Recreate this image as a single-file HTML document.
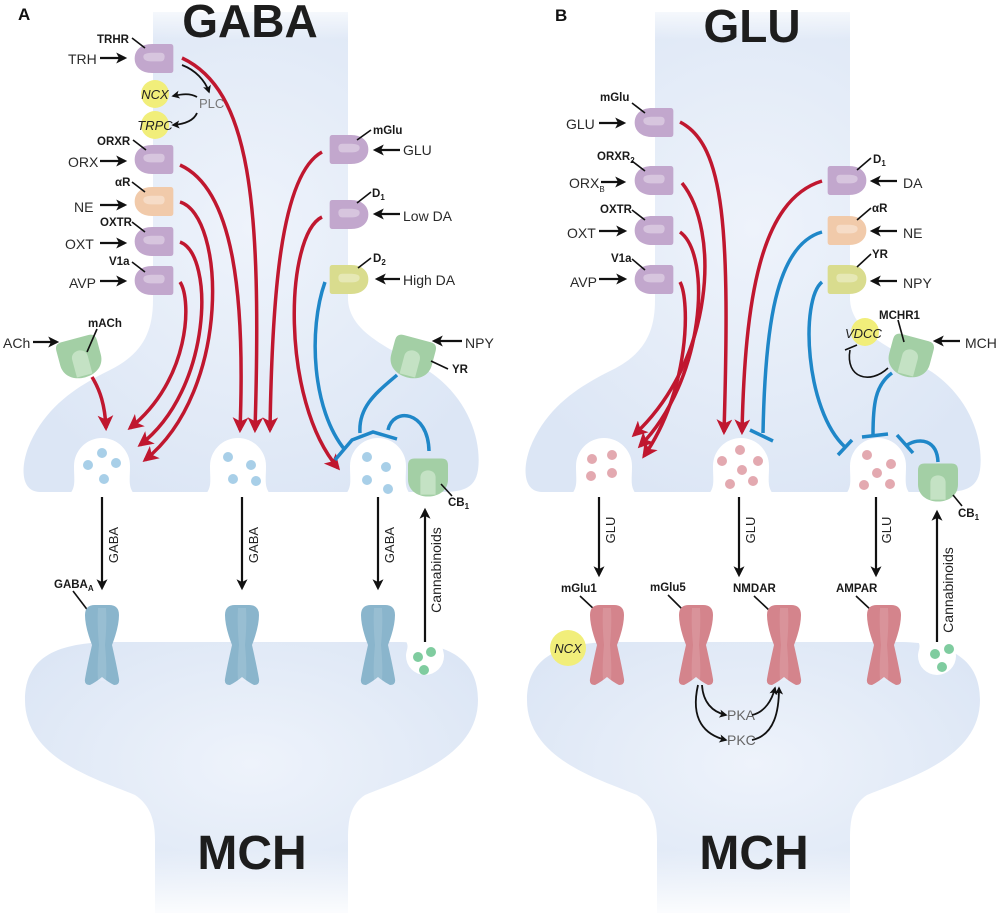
<!DOCTYPE html>
<html><head><meta charset="utf-8"><style>
html,body{margin:0;padding:0;background:#fff;}
svg{display:block;}
text{font-family:"Liberation Sans",sans-serif;}
.lb{font-weight:bold;font-size:11.5px;fill:#1a1a1a;}
.lt{font-size:14px;fill:#2a2a2a;}
</style></head><body>
<svg width="1000" height="913" viewBox="0 0 1000 913" xmlns="http://www.w3.org/2000/svg">
<defs>
<radialGradient id="bg" cx="50%" cy="45%" r="60%">
<stop offset="0" stop-color="#eef3fb"/><stop offset="1" stop-color="#dce6f5"/></radialGradient>
<linearGradient id="topfade" x1="0" y1="0" x2="0" y2="1">
<stop offset="0" stop-color="#fff" stop-opacity="1"/><stop offset="1" stop-color="#fff" stop-opacity="0"/></linearGradient>
<linearGradient id="botfade" x1="0" y1="0" x2="0" y2="1">
<stop offset="0" stop-color="#fff" stop-opacity="0"/><stop offset="1" stop-color="#fff" stop-opacity="0.9"/></linearGradient>
<marker id="ra" viewBox="0 0 10 10" refX="8" refY="5" markerWidth="5" markerHeight="4.5" orient="auto" markerUnits="strokeWidth"><path d="M0,0 L10,5 L0,10 L2.5,5Z" fill="#c0172f"/></marker>
<marker id="ba" viewBox="0 0 10 10" refX="8" refY="5" markerWidth="6" markerHeight="5" orient="auto" markerUnits="strokeWidth"><path d="M0,0 L10,5 L0,10 L2.5,5Z" fill="#111"/></marker>
<marker id="bs" viewBox="0 0 10 10" refX="8" refY="5" markerWidth="5" markerHeight="4.5" orient="auto" markerUnits="strokeWidth"><path d="M0,0 L10,5 L0,10 L2.5,5Z" fill="#111"/></marker>
<symbol id="rl" viewBox="0 0 40 30" overflow="visible">
<path d="M18,0 H37 Q40,0 40,3 V27 Q40,30 37,30 H18 C7,30 0,24 0,15 C0,6 7,0 18,0Z"/>
<path d="M9,13 C9,10 13,9 19,9 H27 Q31,9 31,13 Q31,18 27,18 H19 C13,18 9,17 9,13Z" fill="#fff" opacity="0.35"/>
</symbol>
<symbol id="gr" viewBox="0 0 42 40" overflow="visible">
<path d="M7,0 H35 Q42,0 42,7 V22 C42,33 33,40 21,40 C9,40 0,33 0,22 V7 Q0,0 7,0Z" fill="#a3cfa5"/>
<path d="M13,38 V20 C13,10 29,10 29,20 V38Z" fill="#c4e2c4"/>
</symbol>
<symbol id="ch" viewBox="0 0 38 80" overflow="visible">
<path d="M2,10 Q2,0 12,0 H26 Q36,0 36,10 Q36,22 29,40 Q34,62 36,74 Q37,80 31,80 Q25,77 19,72 Q13,77 7,80 Q1,80 2,74 Q4,62 9,40 Q2,22 2,10Z"/>
<path d="M15,3 H23 Q24,20 22,40 Q24,60 23,76 H15 Q14,60 16,40 Q14,20 15,3Z" fill="#fff" opacity="0.12"/>
</symbol>
<g id="preA">
<path d="M153,12 H348 V300 C350,335 395,350 430,372 C468,398 482,440 478,470 C475,490 460,492 440,492 L40,492 C22,492 20,470 28,448 C45,405 80,385 110,370 C140,355 153,335 153,300Z" fill="url(#bg)"/>
<rect x="150" y="0" width="202" height="40" fill="url(#topfade)"/>
</g>
<g id="postA">
<path d="M25,700 C25,655 60,643 110,642 H400 C450,643 478,660 478,700 C478,760 400,780 365,795 C350,805 348,820 348,840 V913 H155 V840 C155,820 150,805 135,795 C100,780 25,760 25,700Z" fill="url(#bg)"/>
<rect x="150" y="850" width="202" height="63" fill="url(#botfade)"/>
</g>
</defs>

<!-- PANEL A -->
<use href="#preA"/>
<use href="#postA"/>
<g fill="#fff">
<path d="M70,494 C76,486 74,480 74,466 A28,28 0 0 1 130,466 C130,480 128,486 134,494Z"/>
<path d="M206,494 C212,486 210,480 210,466 A28,28 0 0 1 266,466 C266,480 264,486 270,494Z"/>
<path d="M346,494 C352,486 350,480 350,466 A28,28 0 0 1 406,466 C406,480 404,486 410,494Z"/>
<path d="M405,640 C410,646 406,650 406,656 A19,19 0 0 0 444,656 C444,650 440,646 445,640Z"/>
<path d="M0,494 H500 V640 H0Z"/>
</g>
<g fill="#a8cfe8">
<circle cx="102" cy="453" r="5"/><circle cx="88" cy="465" r="5"/><circle cx="116" cy="463" r="5"/><circle cx="104" cy="479" r="5"/>
<circle cx="228" cy="457" r="5"/><circle cx="251" cy="465" r="5"/><circle cx="233" cy="479" r="5"/><circle cx="256" cy="481" r="5"/>
<circle cx="367" cy="457" r="5"/><circle cx="386" cy="467" r="5"/><circle cx="367" cy="480" r="5"/><circle cx="388" cy="489" r="5"/>
</g>
<g fill="#7fcc9f"><circle cx="418" cy="657" r="5"/><circle cx="431" cy="652" r="5"/><circle cx="424" cy="670" r="5"/></g>

<text x="250" y="37" text-anchor="middle" font-weight="bold" font-size="46" fill="#1d1d1d">GABA</text>
<text x="18" y="20" font-weight="bold" font-size="17" fill="#111">A</text>

<use href="#rl" x="134" y="44" width="40" height="29" fill="#c2a7cd"/>
<use href="#rl" x="134" y="145" width="40" height="29" fill="#c2a7cd"/>
<use href="#rl" x="134" y="187" width="40" height="29" fill="#f1caaa"/>
<use href="#rl" x="134" y="227" width="40" height="29" fill="#c2a7cd"/>
<use href="#rl" x="134" y="266" width="40" height="29" fill="#c2a7cd"/>
<g transform="translate(369,0) scale(-1,1)">
<use href="#rl" x="0" y="135" width="40" height="29" fill="#c2a7cd"/>
<use href="#rl" x="0" y="200" width="40" height="29" fill="#c2a7cd"/>
<use href="#rl" x="0" y="265" width="40" height="29" fill="#d9dc8e"/>
</g>
<g transform="rotate(-15 80 358)"><use href="#gr" x="59" y="338" width="42" height="40"/></g>
<g transform="rotate(15 412 358)"><use href="#gr" x="391" y="338" width="42" height="40"/></g>
<use href="#gr" x="408" y="458" width="40" height="39"/>
<circle cx="155" cy="94" r="14" fill="#f1ee7a"/><circle cx="155" cy="125" r="14" fill="#f1ee7a"/>
<text x="155" y="99" text-anchor="middle" font-style="italic" font-size="13" fill="#222">NCX</text>
<text x="155" y="130" text-anchor="middle" font-style="italic" font-size="13" fill="#222">TRPC</text>
<text x="199" y="108" font-size="13" fill="#777">PLC</text>

<g class="lt">
<text x="68" y="64">TRH</text><text x="68" y="167">ORX</text><text x="74" y="212">NE</text><text x="65" y="249">OXT</text><text x="69" y="288">AVP</text>
<text x="3" y="348">ACh</text>
<text x="403" y="155">GLU</text><text x="403" y="221">Low DA</text><text x="403" y="285">High DA</text><text x="465" y="348">NPY</text>
</g>
<g class="lb">
<text x="97" y="43">TRHR</text><text x="97" y="145">ORXR</text><text x="115" y="186">αR</text><text x="100" y="226">OXTR</text><text x="109" y="265">V1a</text>
<text x="88" y="327">mACh</text>
<text x="373" y="134">mGlu</text><text x="372" y="197">D<tspan font-size="8" dy="3">1</tspan></text><text x="373" y="262">D<tspan font-size="8" dy="3">2</tspan></text>
<text x="452" y="373">YR</text><text x="448" y="506">CB<tspan font-size="8" dy="3">1</tspan></text>
<text x="54" y="588">GABA<tspan font-size="8" dy="3">A</tspan></text>
</g>
<g stroke="#111" stroke-width="1.6" fill="none">
<path d="M132,38 L145,48"/><path d="M133,140 L146,150"/><path d="M132,182 L145,192"/><path d="M132,222 L145,232"/><path d="M132,262 L145,272"/>
<path d="M97,329 L87,352"/><path d="M371,130 L357,140"/><path d="M371,192 L357,203"/><path d="M371,258 L358,268"/>
<path d="M431,361 L448,369"/><path d="M441,484 L452,496"/><path d="M73,591 L89,612"/>
</g>
<g stroke="#111" stroke-width="2.2" fill="none" marker-end="url(#ba)">
<path d="M100,58 H125"/><path d="M100,161 H125"/><path d="M100,205 H125"/><path d="M100,243 H125"/><path d="M100,281 H125"/>
<path d="M33,342 H57"/>
<path d="M400,150 H375"/><path d="M400,214 H375"/><path d="M400,279 H377"/><path d="M462,341 H434"/>
</g>
<g stroke="#111" stroke-width="1.8" fill="none" marker-end="url(#bs)">
<path d="M182,65 C195,70 205,80 209,92"/><path d="M197,97 C190,93 182,94 173,96"/><path d="M197,113 C194,120 186,124 173,125"/>
</g>
<g stroke="#c0172f" stroke-width="3.5" fill="none" marker-end="url(#ra)">
<path d="M182,58 C250,90 262,200 255,430"/>
<path d="M180,165 C235,190 245,300 240,430"/>
<path d="M180,202 C225,215 232,390 145,460"/>
<path d="M180,242 C215,255 212,390 140,445"/>
<path d="M180,282 C192,300 190,380 130,428"/>
<path d="M322,152 C280,175 272,300 270,430"/>
<path d="M322,217 C285,235 280,400 338,468"/>
<path d="M92,377 C100,390 105,405 106,428"/>
</g>
<g stroke="#1f87c8" stroke-width="3.5" fill="none">
<path d="M325,282 C308,330 312,410 345,450"/>
<path d="M335,460 L352,440 L373,432 L397,439"/>
<path d="M397,375 C380,390 358,405 360,433"/>
<path d="M429,451 C428,410 393,407 388,430"/>
</g>
<g stroke="#111" stroke-width="2.2" fill="none" marker-end="url(#ba)">
<path d="M102,497 V588"/><path d="M242,497 V588"/><path d="M378,497 V588"/><path d="M425,642 V510"/>
</g>
<g font-size="13" fill="#222">
<text transform="translate(118,545) rotate(-90)" text-anchor="middle">GABA</text>
<text transform="translate(258,545) rotate(-90)" text-anchor="middle">GABA</text>
<text transform="translate(394,545) rotate(-90)" text-anchor="middle">GABA</text>
<text transform="translate(441,570) rotate(-90)" text-anchor="middle" font-size="14">Cannabinoids</text>
</g>
<use href="#ch" x="83" y="605" width="38" height="80" fill="#8ab5cc"/>
<use href="#ch" x="223" y="605" width="38" height="80" fill="#8ab5cc"/>
<use href="#ch" x="359" y="605" width="38" height="80" fill="#8ab5cc"/>
<text x="252" y="869" text-anchor="middle" font-weight="bold" font-size="48" fill="#1d1d1d">MCH</text>

<!-- PANEL B -->
<g transform="translate(502,0)">
<use href="#preA"/>
<use href="#postA"/>
</g>
<g fill="#fff">
<path d="M572,494 C578,486 576,480 576,466 A28,28 0 0 1 632,466 C632,480 630,486 636,494Z"/>
<path d="M709,494 C715,486 713,480 713,466 A28,28 0 0 1 769,466 C769,480 767,486 773,494Z"/>
<path d="M846,494 C852,486 850,480 850,466 A28,28 0 0 1 906,466 C906,480 904,486 910,494Z"/>
<path d="M917,640 C922,646 918,650 918,656 A19,19 0 0 0 956,656 C956,650 952,646 957,640Z"/>
<path d="M500,494 H1000 V640 H500Z"/>
</g>
<g fill="#e3a9b0">
<circle cx="592" cy="459" r="5"/><circle cx="612" cy="455" r="5"/><circle cx="591" cy="476" r="5"/><circle cx="612" cy="473" r="5"/>
<circle cx="740" cy="450" r="5"/><circle cx="722" cy="461" r="5"/><circle cx="758" cy="461" r="5"/><circle cx="742" cy="470" r="5"/><circle cx="730" cy="484" r="5"/><circle cx="753" cy="481" r="5"/>
<circle cx="867" cy="455" r="5"/><circle cx="891" cy="464" r="5"/><circle cx="877" cy="473" r="5"/><circle cx="864" cy="485" r="5"/><circle cx="890" cy="484" r="5"/>
</g>
<g fill="#7fcc9f"><circle cx="935" cy="654" r="5"/><circle cx="949" cy="649" r="5"/><circle cx="942" cy="667" r="5"/></g>

<text x="752" y="42" text-anchor="middle" font-weight="bold" font-size="46" fill="#1d1d1d">GLU</text>
<text x="555" y="21" font-weight="bold" font-size="17" fill="#111">B</text>

<use href="#rl" x="634" y="108" width="40" height="29" fill="#c2a7cd"/>
<use href="#rl" x="634" y="166" width="40" height="29" fill="#c2a7cd"/>
<use href="#rl" x="634" y="216" width="40" height="29" fill="#c2a7cd"/>
<use href="#rl" x="634" y="265" width="40" height="29" fill="#c2a7cd"/>
<g transform="translate(867,0) scale(-1,1)">
<use href="#rl" x="0" y="166" width="40" height="29" fill="#c2a7cd"/>
<use href="#rl" x="0" y="216" width="40" height="29" fill="#f1caaa"/>
<use href="#rl" x="0" y="265" width="40" height="29" fill="#d9dc8e"/>
</g>
<g transform="rotate(15 910 357)"><use href="#gr" x="889" y="337" width="42" height="40"/></g>
<use href="#gr" x="918" y="463" width="40" height="39"/>
<circle cx="865" cy="332" r="14" fill="#f1ee7a"/>
<text x="845" y="338" font-style="italic" font-size="13" fill="#222">VDCC</text>
<circle cx="568" cy="648" r="18" fill="#f1ee7a"/>
<text x="568" y="653" text-anchor="middle" font-style="italic" font-size="13" fill="#222">NCX</text>

<g class="lt">
<text x="566" y="129">GLU</text><text x="569" y="188">ORX<tspan font-size="8" dy="4">B</tspan></text><text x="567" y="238">OXT</text><text x="570" y="287">AVP</text>
<text x="903" y="188">DA</text><text x="903" y="238">NE</text><text x="903" y="288">NPY</text><text x="965" y="348">MCH</text>
<text x="727" y="720" fill="#666">PKA</text><text x="727" y="745" fill="#666">PKC</text>
</g>
<g class="lb">
<text x="600" y="101">mGlu</text><text x="597" y="160">ORXR<tspan font-size="8" dy="3">2</tspan></text><text x="600" y="213">OXTR</text><text x="611" y="262">V1a</text>
<text x="873" y="163">D<tspan font-size="8" dy="3">1</tspan></text><text x="872" y="212">αR</text><text x="872" y="258">YR</text>
<text x="879" y="319">MCHR1</text><text x="958" y="517">CB<tspan font-size="8" dy="3">1</tspan></text>
<text x="561" y="592">mGlu1</text><text x="650" y="591">mGlu5</text><text x="733" y="592">NMDAR</text><text x="836" y="592">AMPAR</text>
</g>
<g stroke="#111" stroke-width="1.6" fill="none">
<path d="M632,103 L645,113"/><path d="M632,161 L645,171"/><path d="M632,210 L645,220"/><path d="M632,259 L645,270"/>
<path d="M871,158 L857,170"/><path d="M871,208 L857,220"/><path d="M871,254 L857,267"/>
<path d="M898,320 L904,342"/><path d="M953,495 L962,506"/>
<path d="M580,596 L596,611"/><path d="M668,595 L684,611"/><path d="M754,596 L770,611"/><path d="M856,596 L872,611"/>
</g>
<g stroke="#111" stroke-width="2.2" fill="none" marker-end="url(#ba)">
<path d="M599,123 H624"/><path d="M601,182 H624"/><path d="M599,231 H625"/><path d="M599,279 H625"/>
<path d="M897,181 H872"/><path d="M897,231 H872"/><path d="M897,281 H872"/><path d="M960,341 H935"/>
</g>
<g stroke="#c0172f" stroke-width="3.5" fill="none" marker-end="url(#ra)">
<path d="M680,122 C725,145 730,230 724,432"/>
<path d="M682,183 C720,230 715,360 634,435"/>
<path d="M680,232 C712,255 705,380 640,446"/>
<path d="M680,282 C690,300 690,390 644,456"/>
<path d="M822,181 C760,200 745,300 742,432"/>
</g>
<g stroke="#1f87c8" stroke-width="3.5" fill="none">
<path d="M822,232 C775,245 765,330 763,433"/><path d="M750,430 L773,441"/>
<path d="M822,282 C800,300 805,410 845,447"/><path d="M838,455 L852,440"/>
<path d="M892,373 C875,385 873,405 873,435"/><path d="M862,437 L888,434"/>
<path d="M938,462 C937,440 920,437 907,445"/><path d="M897,435 L913,453"/>
</g>
<g stroke="#111" stroke-width="1.6" fill="none">
<path d="M888,368 C870,385 845,378 850,350"/><path d="M845,350 L857,345"/>
</g>
<g stroke="#111" stroke-width="2.2" fill="none" marker-end="url(#ba)">
<path d="M599,497 V575"/><path d="M739,497 V575"/><path d="M876,497 V575"/><path d="M937,642 V512"/>
</g>
<g stroke="#111" stroke-width="1.8" fill="none" marker-end="url(#bs)">
<path d="M702,685 C703,702 712,712 726,715"/><path d="M698,685 C690,720 705,735 726,740"/>
<path d="M752,715 C765,712 772,700 775,688"/><path d="M752,740 C775,735 779,710 779,688"/>
</g>
<g font-size="13" fill="#222">
<text transform="translate(615,530) rotate(-90)" text-anchor="middle">GLU</text>
<text transform="translate(755,530) rotate(-90)" text-anchor="middle">GLU</text>
<text transform="translate(891,530) rotate(-90)" text-anchor="middle">GLU</text>
<text transform="translate(953,590) rotate(-90)" text-anchor="middle" font-size="14">Cannabinoids</text>
</g>
<use href="#ch" x="588" y="605" width="38" height="80" fill="#d4848c"/>
<use href="#ch" x="677" y="605" width="38" height="80" fill="#d4848c"/>
<use href="#ch" x="765" y="605" width="38" height="80" fill="#d4848c"/>
<use href="#ch" x="865" y="605" width="38" height="80" fill="#d4848c"/>
<text x="754" y="869" text-anchor="middle" font-weight="bold" font-size="48" fill="#1d1d1d">MCH</text>
</svg>
</body></html>
